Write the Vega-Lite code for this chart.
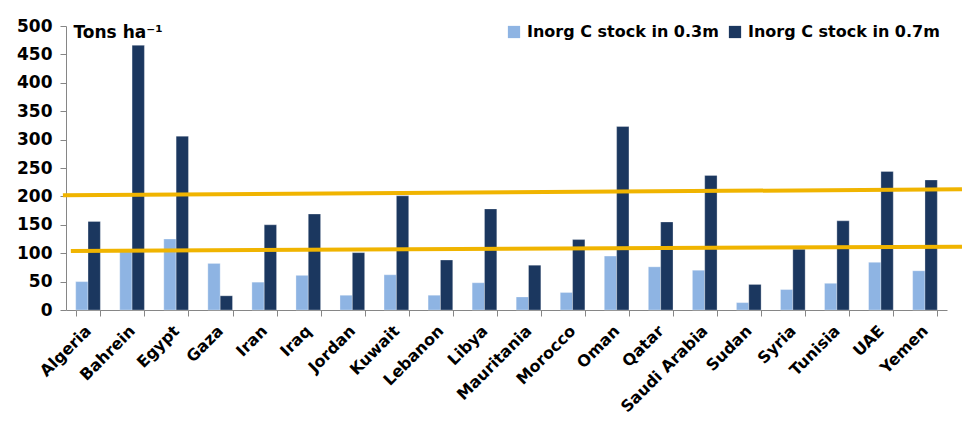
{
  "$schema": "https://vega.github.io/schema/vega-lite/v6.json",
  "autosize": "none",
  "width": 881,
  "height": 284,
  "padding": {"left": 66, "top": 26, "right": 15, "bottom": 111},
  "background": "white",
  "config": {
    "view": {"stroke": null},
    "font": "DejaVu Sans",
    "axis": {"labelFont": "DejaVu Sans", "labelFontWeight": "bold", "labelColor": "#000000", "domainColor": "#868686", "tickColor": "#868686", "grid": false}
  },
  "datasets": {
    "bars": [
      {"country": "Algeria", "series": "Inorg C stock in 0.3m", "value": 50},
      {"country": "Algeria", "series": "Inorg C stock in 0.7m", "value": 156},
      {"country": "Bahrein", "series": "Inorg C stock in 0.3m", "value": 107},
      {"country": "Bahrein", "series": "Inorg C stock in 0.7m", "value": 466},
      {"country": "Egypt", "series": "Inorg C stock in 0.3m", "value": 125},
      {"country": "Egypt", "series": "Inorg C stock in 0.7m", "value": 306},
      {"country": "Gaza", "series": "Inorg C stock in 0.3m", "value": 82},
      {"country": "Gaza", "series": "Inorg C stock in 0.7m", "value": 25},
      {"country": "Iran", "series": "Inorg C stock in 0.3m", "value": 49},
      {"country": "Iran", "series": "Inorg C stock in 0.7m", "value": 150},
      {"country": "Iraq", "series": "Inorg C stock in 0.3m", "value": 61},
      {"country": "Iraq", "series": "Inorg C stock in 0.7m", "value": 169},
      {"country": "Jordan", "series": "Inorg C stock in 0.3m", "value": 26},
      {"country": "Jordan", "series": "Inorg C stock in 0.7m", "value": 101},
      {"country": "Kuwait", "series": "Inorg C stock in 0.3m", "value": 62},
      {"country": "Kuwait", "series": "Inorg C stock in 0.7m", "value": 201},
      {"country": "Lebanon", "series": "Inorg C stock in 0.3m", "value": 26},
      {"country": "Lebanon", "series": "Inorg C stock in 0.7m", "value": 88},
      {"country": "Libya", "series": "Inorg C stock in 0.3m", "value": 48},
      {"country": "Libya", "series": "Inorg C stock in 0.7m", "value": 178},
      {"country": "Mauritania", "series": "Inorg C stock in 0.3m", "value": 23},
      {"country": "Mauritania", "series": "Inorg C stock in 0.7m", "value": 79},
      {"country": "Morocco", "series": "Inorg C stock in 0.3m", "value": 31},
      {"country": "Morocco", "series": "Inorg C stock in 0.7m", "value": 124},
      {"country": "Oman", "series": "Inorg C stock in 0.3m", "value": 95},
      {"country": "Oman", "series": "Inorg C stock in 0.7m", "value": 323},
      {"country": "Qatar", "series": "Inorg C stock in 0.3m", "value": 76},
      {"country": "Qatar", "series": "Inorg C stock in 0.7m", "value": 155},
      {"country": "Saudi Arabia", "series": "Inorg C stock in 0.3m", "value": 70},
      {"country": "Saudi Arabia", "series": "Inorg C stock in 0.7m", "value": 237},
      {"country": "Sudan", "series": "Inorg C stock in 0.3m", "value": 13},
      {"country": "Sudan", "series": "Inorg C stock in 0.7m", "value": 45},
      {"country": "Syria", "series": "Inorg C stock in 0.3m", "value": 36},
      {"country": "Syria", "series": "Inorg C stock in 0.7m", "value": 107},
      {"country": "Tunisia", "series": "Inorg C stock in 0.3m", "value": 47},
      {"country": "Tunisia", "series": "Inorg C stock in 0.7m", "value": 157},
      {"country": "UAE", "series": "Inorg C stock in 0.3m", "value": 84},
      {"country": "UAE", "series": "Inorg C stock in 0.7m", "value": 244},
      {"country": "Yemen", "series": "Inorg C stock in 0.3m", "value": 69},
      {"country": "Yemen", "series": "Inorg C stock in 0.7m", "value": 229}
    ],
    "lines": [
      {"line": "upper", "pos": -0.07, "value": 202},
      {"line": "upper", "pos": 20.34, "value": 212.5},
      {"line": "lower", "pos": 0.11, "value": 104},
      {"line": "lower", "pos": 20.34, "value": 111.5}
    ]
  },
  "encoding": {
    "y": {
      "field": "value", "type": "quantitative",
      "scale": {"domain": [0, 500], "nice": false},
      "axis": {
        "values": [0, 50, 100, 150, 200, 250, 300, 350, 400, 450, 500],
        "labelOverlap": false, "labelBound": false,
        "labelFontSize": 17, "labelPadding": 8, "tickSize": 6,
        "title": "Tons ha⁻¹", "titleAngle": 0, "titleAlign": "left", "titleBaseline": "middle",
        "titleX": 7, "titleY": 6, "titleFont": "DejaVu Sans", "titleFontSize": 17, "titleFontWeight": "bold", "titleColor": "#000000"
      }
    }
  },
  "layer": [
    {
      "data": {"name": "bars"},
      "mark": {"type": "bar", "stroke": "#ffffff", "strokeWidth": 0.6, "strokeOpacity": 0.5},
      "encoding": {
        "x": {
          "field": "country", "type": "nominal", "sort": null,
          "scale": {"paddingInner": 0.44, "paddingOuter": 0.22},
          "axis": {
            "title": null, "labelAngle": -45, "labelAlign": "right", "labelBaseline": "middle",
            "labelFontSize": 16, "labelPadding": 12, "tickBand": "extent", "tickSize": 6, "labelOverlap": false
          }
        },
        "xOffset": {"field": "series", "type": "nominal", "scale": {"paddingInner": 0, "paddingOuter": 0}},
        "color": {
          "field": "series", "type": "nominal",
          "scale": {"domain": ["Inorg C stock in 0.3m", "Inorg C stock in 0.7m"], "range": ["#8EB4E3", "#1B375F"]},
          "legend": {
            "title": null, "orient": "none", "legendX": 440, "legendY": -2, "direction": "horizontal",
            "symbolType": "square", "symbolSize": 150, "symbolStrokeWidth": 0,
            "labelFont": "DejaVu Sans", "labelFontWeight": "bold", "labelFontSize": 16, "labelColor": "#000000",
            "labelLimit": 400, "columnPadding": 8, "labelOffset": 5
          }
        }
      }
    },
    {
      "data": {"name": "lines"},
      "mark": {"type": "line", "color": "#F0B400", "strokeWidth": 4, "clip": false},
      "encoding": {
        "x": {"field": "pos", "type": "quantitative", "scale": {"domain": [0, 20], "nice": false, "zero": false}, "axis": null},
        "detail": {"field": "line"}
      }
    }
  ],
  "resolve": {"scale": {"x": "independent"}}
}
